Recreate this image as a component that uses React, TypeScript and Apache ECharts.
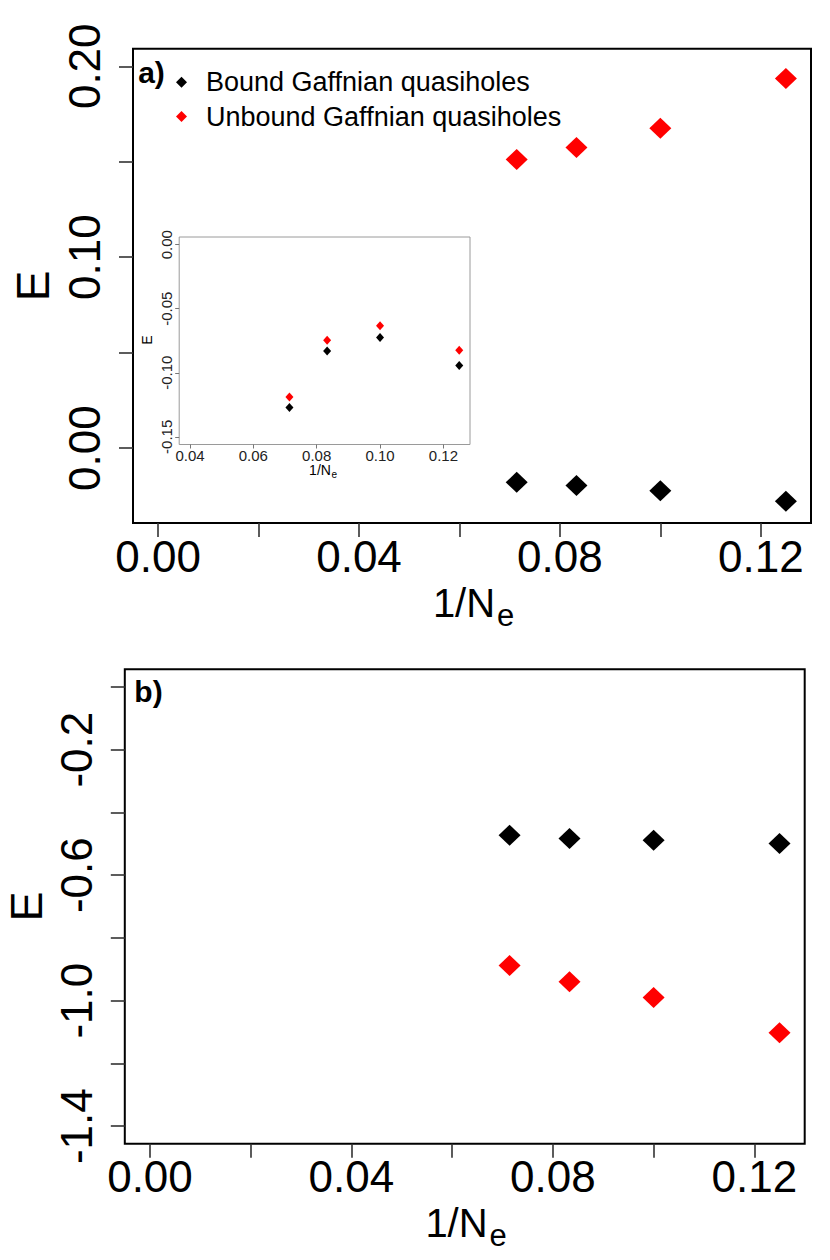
import React, { useEffect, useRef } from "react";
import * as echarts from "echarts";

// ---- data ----
const X_VALUES = [0.0714, 0.0833, 0.1, 0.125];

const BOUND_TOP = [-0.0179, -0.0195, -0.0223, -0.0278];
const UNBOUND_TOP = [0.1512, 0.1574, 0.1675, 0.1936];

const BOUND_INSET = [-0.1271, -0.083, -0.0724, -0.0943];
const UNBOUND_INSET = [-0.119, -0.0747, -0.0632, -0.0825];

const BOUND_BOTTOM = [-0.473, -0.483, -0.489, -0.499];
const UNBOUND_BOTTOM = [-0.888, -0.94, -0.99, -1.102];

const SERIES_NAMES = ["Bound Gaffnian quasiholes", "Unbound Gaffnian quasiholes"];

// ---- ticks / labels ----
const MAIN_X_TICKS = [0, 0.02, 0.04, 0.06, 0.08, 0.1, 0.12];
const MAIN_X_LABELS = [0, 0.04, 0.08, 0.12];
const TOP_Y_TICKS = [0, 0.05, 0.1, 0.15, 0.2];
const TOP_Y_LABELS = [0, 0.1, 0.2];
const INSET_X_TICKS = [0.04, 0.06, 0.08, 0.1, 0.12];
const INSET_Y_TICKS = [0, -0.05, -0.1, -0.15];
const BOTTOM_Y_TICKS = [0, -0.2, -0.4, -0.6, -0.8, -1.0, -1.2, -1.4];
const BOTTOM_Y_LABELS = [-0.2, -0.6, -1.0, -1.4];

// axis limits (R style 4% padding)
const MAIN_X_RANGE = [-0.005, 0.13];
const TOP_Y_RANGE = [-0.0392, 0.2092];
const INSET_X_RANGE = [0.0366, 0.1284];
const INSET_Y_RANGE = [-0.156, 0.006];
const BOTTOM_Y_RANGE = [-1.456, 0.056];

const FONT = "'Liberation Sans', Arial, Helvetica, sans-serif";
const BLACK = "#000000";
const RED = "#ff0000";

const pairs = (ys: number[]) => X_VALUES.map((x, i) => [x, ys[i]]);

function axis(
  isY: boolean,
  gridIndex: number,
  range: number[],
  ticks: number[],
  labels: number[],
  digits: number,
  fontSize: number,
  margin: number,
  tickLen: number,
  tickColor: string,
  labelColor: string
) {
  return {
    type: "value",
    gridIndex,
    min: range[0],
    max: range[1],
    position: isY ? "left" : "bottom",
    axisLine: { show: false, onZero: false },
    splitLine: { show: false },
    axisTick: {
      show: true,
      inside: false,
      length: tickLen,
      customValues: ticks,
      lineStyle: { color: tickColor, width: tickLen > 6 ? 1.6 : 1 },
    },
    axisLabel: {
      show: true,
      customValues: labels,
      formatter: (v: number) => v.toFixed(digits),
      fontSize,
      fontFamily: FONT,
      color: labelColor,
      margin,
      rotate: isY ? 90 : 0,
      align: "center",
      verticalAlign: "middle",
    },
  };
}

function scatter(name: string, idx: number, ys: number[], color: string, size: number[]) {
  return {
    type: "scatter",
    name,
    xAxisIndex: idx,
    yAxisIndex: idx,
    symbol: "diamond",
    symbolSize: size,
    itemStyle: { color, opacity: 1 },
    data: pairs(ys),
    z: 3,
  };
}

function text(x: number, y: number, t: string, fontSize: number, opts: any = {}) {
  return {
    type: "text",
    x,
    y,
    rotation: opts.rotation || 0,
    style: {
      text: t,
      fontSize,
      fontFamily: FONT,
      fontWeight: opts.bold ? "bold" : "normal",
      fill: opts.color || "#000",
      align: opts.align || "center",
      verticalAlign: "middle",
    },
    z: 10,
  };
}

export default function App() {
  const ref = useRef<HTMLDivElement>(null);

  useEffect(() => {
    document.body.style.margin = "0";
    if (!ref.current) return;
    const chart = echarts.init(ref.current, undefined, { renderer: "svg" });

    const option: any = {
      animation: false,
      backgroundColor: "#ffffff",
      grid: [
        {
          left: 133,
          top: 48.7,
          width: 678,
          height: 474.3,
          show: true,
          borderColor: "#000",
          borderWidth: 2,
          backgroundColor: "transparent",
          outerBoundsMode: "none",
          containLabel: false,
        },
        {
          left: 179.2,
          top: 237,
          width: 290.8,
          height: 207.5,
          show: true,
          borderColor: "#9a9a9a",
          borderWidth: 1,
          backgroundColor: "#ffffff",
          outerBoundsMode: "none",
          containLabel: false,
        },
        {
          left: 124.8,
          top: 669.3,
          width: 679.9,
          height: 474.4,
          show: true,
          borderColor: "#000",
          borderWidth: 2,
          backgroundColor: "transparent",
          outerBoundsMode: "none",
          containLabel: false,
        },
      ],
      xAxis: [
        axis(false, 0, MAIN_X_RANGE, MAIN_X_TICKS, MAIN_X_LABELS, 2, 44, 33, 14, "#333", "#000"),
        axis(false, 1, INSET_X_RANGE, INSET_X_TICKS, INSET_X_TICKS, 2, 15, 11, 4, "#777", "#222"),
        axis(false, 2, MAIN_X_RANGE, MAIN_X_TICKS, MAIN_X_LABELS, 2, 44, 33, 14, "#333", "#000"),
      ],
      yAxis: [
        axis(true, 0, TOP_Y_RANGE, TOP_Y_TICKS, TOP_Y_LABELS, 2, 44, 48.5, 14, "#333", "#000"),
        axis(true, 1, INSET_Y_RANGE, INSET_Y_TICKS, INSET_Y_TICKS, 2, 15, 13, 4, "#777", "#222"),
        axis(true, 2, BOTTOM_Y_RANGE, BOTTOM_Y_TICKS, BOTTOM_Y_LABELS, 1, 44, 48.5, 14, "#333", "#000"),
      ],
      legend: {
        show: true,
        data: SERIES_NAMES,
        orient: "vertical",
        left: 176,
        top: 68.7,
        padding: 0,
        itemWidth: 11,
        itemHeight: 11,
        itemGap: 7.3,
        selectedMode: false,
        textStyle: {
          fontSize: 27,
          fontFamily: FONT,
          color: "#000",
          padding: [0, 0, 0, 14],
        },
      },
      series: [
        scatter(SERIES_NAMES[0], 0, BOUND_TOP, BLACK, [22, 21]),
        scatter(SERIES_NAMES[1], 0, UNBOUND_TOP, RED, [22, 21]),
        scatter(SERIES_NAMES[0], 1, BOUND_INSET, BLACK, [8, 9]),
        scatter(SERIES_NAMES[1], 1, UNBOUND_INSET, RED, [8, 9]),
        scatter(SERIES_NAMES[0], 2, BOUND_BOTTOM, BLACK, [22, 21]),
        scatter(SERIES_NAMES[1], 2, UNBOUND_BOTTOM, RED, [22, 21]),
      ],
      graphic: [
        // panel tags
        text(151.5, 72, "a)", 30, { bold: true }),
        text(148.5, 691, "b)", 30, { bold: true }),
        // top panel axis titles
        text(33, 286, "E", 46, { rotation: Math.PI / 2 }),
        text(464, 602.5, "1/N", 40),
        text(497, 615, "e", 31, { align: "left" }),
        // inset axis titles
        text(147, 340, "E", 14, { rotation: Math.PI / 2 }),
        text(320, 470, "1/N", 14),
        text(331.5, 474.5, "e", 10, { align: "left" }),
        // bottom panel axis titles
        text(26, 906.5, "E", 45, { rotation: Math.PI / 2 }),
        text(456.5, 1223, "1/N", 40),
        text(489.5, 1235.5, "e", 31, { align: "left" }),
      ],
    };

    chart.setOption(option);
    return () => chart.dispose();
  }, []);

  return (
    <div
      ref={ref}
      style={{ width: 830, height: 1260, position: "absolute", left: 0, top: 0 }}
    />
  );
}
